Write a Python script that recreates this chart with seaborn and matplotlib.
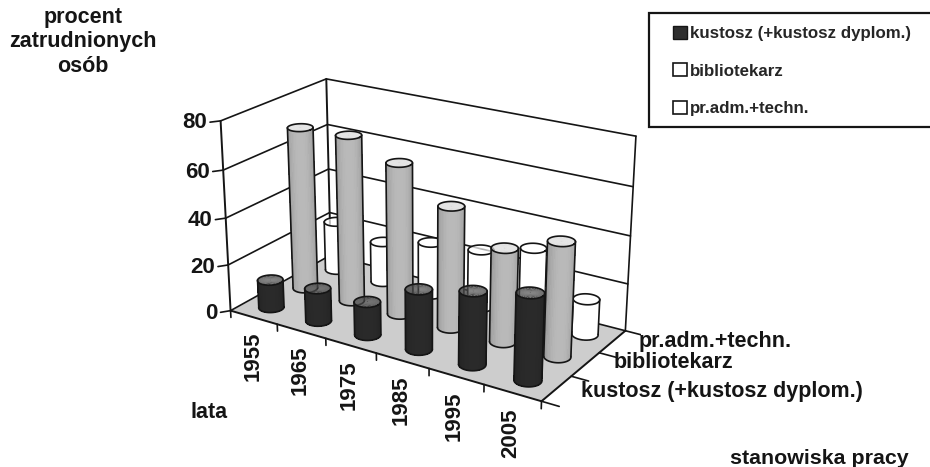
import numpy as np
import seaborn as sns
import matplotlib
matplotlib.use("Agg")
import matplotlib.pyplot as plt
from matplotlib.patches import Patch, Rectangle
from mpl_toolkits.mplot3d import proj3d

# values
years = ["1955", "1965", "1975", "1985", "1995", "2005"]
stanowiska = ["kustosz (+kustosz dyplom.)", "bibliotekarz", "pr.adm.+techn."]
kustosz = [12, 14, 14, 25, 30, 35]
bibliotekarz = [70, 71, 64, 51, 39, 47]
pr_adm = [22, 18, 23, 25, 31, 15]
z_ticks = [0, 20, 40, 60, 80]

sns.set_theme(style="white")
plt.rcParams["font.family"] = ["Liberation Sans", "DejaVu Sans"]
plt.rcParams["font.weight"] = "bold"

W, H = 930, 467
fig = plt.figure(figsize=(W / 100, H / 100), dpi=100, facecolor="white")
S, X0, Y0 = 443.6, 197.3, 12.3
ax = fig.add_axes([X0 / W, Y0 / H, S / W, S / H], projection="3d", computed_zorder=False)
ax.set_facecolor("none")
ax.set_xlim(0, 6, view_margin=0)
ax.set_ylim(0, 3, view_margin=0)
ax.set_zlim(0, 80, view_margin=0)
ELEV, AZIM = 21.675, -57.418
BX, BY = 1.776, 0.858
ax.view_init(ELEV, AZIM)
ax.set_proj_type("persp", focal_length=0.628)
ax.set_box_aspect((BX, BY, 1))
ax.set_axis_off()

LINE = "#151515"
z = 1


def line(xs, ys, zs, lw=1.2):
    global z
    ax.plot(xs, ys, zs, color=LINE, lw=lw, zorder=z, solid_capstyle="round")
    z += 1


def label(x, y, zv, s, **kw):
    # 3D position -> figure position, so the text stays a plain upright label
    xp, yp, _ = proj3d.proj_transform(x, y, zv, ax.get_proj())
    px, py = ax.transData.transform((xp, yp))
    fig.text(px / W, py / H, s, color=LINE, **kw)


# floor
xx, yy = np.meshgrid([0, 6], [0, 3])
ax.plot_surface(xx, yy, np.zeros_like(xx), color="#cdcdcd", shade=False, linewidth=0, zorder=z)
z += 1

# walls and grid
for v in z_ticks:
    line([0, 0, 6], [0, 3, 3], [v, v, v])
line([0, 0], [3, 3], [0, 80], lw=1.4)
line([6, 6], [3, 3], [0, 80])
line([0, 0], [0, 0], [0, 80], lw=1.4)
line([0, 6, 6], [0, 0, 3], [0, 0, 0], lw=1.4)

# ticks and tick labels
for v in z_ticks:
    line([0, -0.1], [0, -0.15], [v, v])
    label(-0.12, -0.2, v, str(v), ha="right", va="center", fontsize=16)
for i in range(7):
    line([i, i], [0, 0], [0, -3])
for j in range(4):
    line([6, 6.3], [j, j], [0, 0])
for i, y in enumerate(years):
    label(i + 0.47, 0, -6.5, y, rotation=90, ha="center", va="top", fontsize=16)
for name, yp in zip(stanowiska, [0.62, 1.8, 2.75]):
    label(6.35, yp, 0, name, ha="left", va="center", fontsize=15.5)

# cylinders, far ones first
series = [kustosz, bibliotekarz, pr_adm]
body = [0.15, 0.66, 1.0]
caps = ["#4a4a4a", "#dcdcdc", "#ffffff"]
R = 0.064
rx, ry = R * 6 / BX, R * 3 / BY
az = np.radians(AZIM)
bars = [(i + 0.5, j + 0.5, series[j][i], j) for j in range(3) for i in range(6)]
bars.sort(key=lambda b: b[0] * BX / 6 * np.cos(az) + b[1] * BY / 3 * np.sin(az))

t = np.linspace(az - np.pi / 2, az + np.pi / 2, 25)
tc = np.linspace(0, 2 * np.pi, 49)
for x, y, val, j in bars:
    # side of the cylinder, lighter towards the middle
    X = np.vstack([x + rx * np.cos(t)] * 2)
    Y = np.vstack([y + ry * np.sin(t)] * 2)
    Z = np.vstack([np.zeros_like(t), np.full_like(t, val)])
    shade = np.cos(t[:-1] - az) * 0.28 + 0.82
    grey = np.clip(body[j] * shade, 0, 1) if j < 2 else np.ones_like(shade)
    fc = np.dstack([grey, grey, grey, np.ones_like(grey)]).reshape(1, -1, 4)
    ax.plot_surface(X, Y, Z, facecolors=fc, rstride=1, cstride=1, shade=False,
                    linewidth=0, antialiased=False, zorder=z)
    z += 1
    # top
    Xc = np.vstack([np.full_like(tc, x), x + rx * np.cos(tc)])
    Yc = np.vstack([np.full_like(tc, y), y + ry * np.sin(tc)])
    ax.plot_surface(Xc, Yc, np.full_like(Xc, val), color=caps[j], shade=False, linewidth=0, zorder=z)
    z += 1
    # outline
    line(x + rx * np.cos(t), y + ry * np.sin(t), np.zeros_like(t))
    line(x + rx * np.cos(tc), y + ry * np.sin(tc), np.full_like(tc, val))
    for a in (t[0], t[-1]):
        line([x + rx * np.cos(a)] * 2, [y + ry * np.sin(a)] * 2, [0, val])

# captions
fig.text(83 / W, 1 - 42 / H, "procent\nzatrudnionych\nosób", ha="center", va="center",
         fontsize=15.5, linespacing=1.25, color=LINE)
fig.text(190 / W, 1 - 413 / H, "lata", ha="left", va="center", fontsize=15.5, color=LINE)
fig.text(730 / W, 1 - 459 / H, "stanowiska pracy", ha="left", va="center", fontsize=15.4, color=LINE)

# legend frame runs past the right edge of the page
fig.add_artist(Rectangle((649 / W, 1 - 127 / H), 290 / W, 114 / H, transform=fig.transFigure,
                         facecolor="white", edgecolor=LINE, lw=1.6, zorder=3))
handles = [Patch(facecolor="#2e2e2e", edgecolor=LINE, lw=1),
           Patch(facecolor="white", edgecolor=LINE, lw=1.2),
           Patch(facecolor="white", edgecolor=LINE, lw=1.2)]
leg = fig.legend(handles, stanowiska, loc="upper left",
                 bbox_to_anchor=(673 / W, 1 - 26 / H), borderaxespad=0, borderpad=0,
                 fontsize=12.2, handlelength=0.8, handleheight=0.8, handletextpad=0.2,
                 labelspacing=1.3, frameon=False)
leg.set_zorder(4)

fig.savefig("out.png", dpi=100, facecolor=fig.get_facecolor())
